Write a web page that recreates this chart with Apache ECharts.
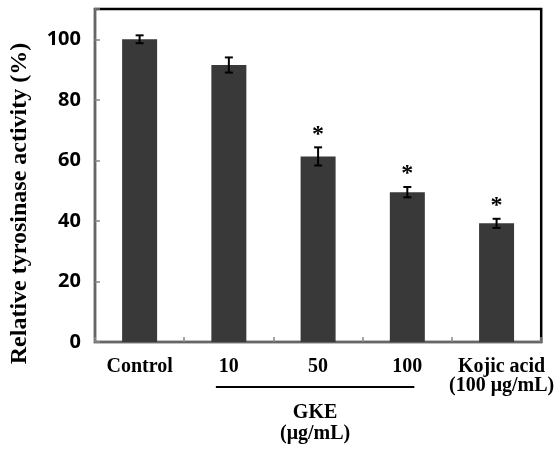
<!DOCTYPE html>
<html><head><meta charset="utf-8">
<script src="https://cdn.jsdelivr.net/npm/echarts@6/dist/echarts.min.js"></script>
<style>html,body{margin:0;padding:0;background:#fff}#c{width:557px;height:450px}</style>
</head><body><div id="c"></div>
<script>
const categories = ['Control', '10', '50', '100', 'Kojic acid\n(100 μg/mL)'];
const values = [100, 91.5, 61.3, 49.5, 39.2];
const errors = [1.3, 2.5, 3.0, 1.7, 1.5];
const significant = [false, false, true, true, true];
const yTicks = [0, 20, 40, 60, 80, 100];
const yTitle = 'Relative tyrosinase activity (%)';
const groupLabel = ['GKE', '(μg/mL)'];

const serif = '"Liberation Serif", "Times New Roman", serif';
const chart = echarts.init(document.getElementById('c'));
const errData = values.map((v, i) => [i, v, errors[i], significant[i] ? 1 : 0]);

chart.setOption({
  animation: false,
  grid: { left: 95, right: 14, top: 9, bottom: 108, show: true, borderColor: '#000', borderWidth: 2.5 },
  xAxis: {
    type: 'category', data: categories.map((c, i) => i === 4 ? { value: c, textStyle: { padding: [0, 0, 0, 10] } } : c),
    axisLine: { lineStyle: { color: '#666', width: 2 } },
    axisTick: { show: true, inside: true, length: 5, lineStyle: { color: '#888', width: 1.5 } },
    axisLabel: { interval: 0, margin: 15, fontFamily: serif, fontWeight: 'bold', fontSize: 20, color: '#000', lineHeight: 19 }
  },
  yAxis: {
    type: 'value', min: 0, max: 110, interval: 20,
    axisLine: { show: true, lineStyle: { color: '#666', width: 2 } },
    axisTick: { show: true, inside: true, length: 5, lineStyle: { color: '#888', width: 1.5 } },
    splitLine: { show: false },
    axisLabel: { margin: 14, fontFamily: '"Noto Sans", sans-serif', fontWeight: 'bold', fontSize: 20, color: '#000',
      formatter: v => yTicks.indexOf(v) >= 0 ? String(v) : '' }
  },
  series: [
    { type: 'bar', data: values, barWidth: 35, itemStyle: { color: '#393939' }, z: 2 },
    { type: 'custom', data: errData, z: 3,
      renderItem: (params, api) => {
        const x = api.value(0), v = api.value(1), e = api.value(2), s = api.value(3);
        const top = api.coord([x, v + e]), bot = api.coord([x, v - e]);
        const cx = top[0], w = 4;
        const ls = { stroke: '#000', lineWidth: 2 };
        const children = [
          { type: 'line', shape: { x1: cx, y1: top[1], x2: cx, y2: bot[1] }, style: ls },
          { type: 'line', shape: { x1: cx - w, y1: top[1], x2: cx + w, y2: top[1] }, style: ls },
          { type: 'line', shape: { x1: cx - w, y1: bot[1], x2: cx + w, y2: bot[1] }, style: ls }
        ];
        if (s) children.push({ type: 'text', style: { text: '*', x: cx, y: top[1] - 13, align: 'center', verticalAlign: 'middle',
          font: 'bold 24px ' + serif, fill: '#000' } });
        return { type: 'group', children };
      } }
  ]
});

const p1 = chart.convertToPixel({ xAxisIndex: 0 }, 1);
const p3 = chart.convertToPixel({ xAxisIndex: 0 }, 3);
const y0 = chart.convertToPixel({ yAxisIndex: 0 }, 0);
const midY = (chart.convertToPixel({ yAxisIndex: 0 }, 110) + y0) / 2;
const x1 = p1 - 13, x2 = p3 + 7, cxG = (x1 + x2) / 2;
chart.setOption({
  graphic: [
    { type: 'line', shape: { x1: x1, y1: y0 + 45, x2: x2, y2: y0 + 45 }, style: { stroke: '#000', lineWidth: 2 } },
    { type: 'text', x: cxG, y: y0 + 71, style: { text: groupLabel[0], align: 'center', verticalAlign: 'middle', font: 'bold 20px ' + serif, fill: '#000' } },
    { type: 'text', x: cxG, y: y0 + 92, style: { text: groupLabel[1], align: 'center', verticalAlign: 'middle', font: 'bold 20px ' + serif, fill: '#000' } },
    { type: 'text', x: 20, y: midY + 28, rotation: Math.PI / 2, style: { text: yTitle, align: 'center', verticalAlign: 'middle', font: 'bold 24px ' + serif, fill: '#000' } }
  ]
});
</script></body></html>
